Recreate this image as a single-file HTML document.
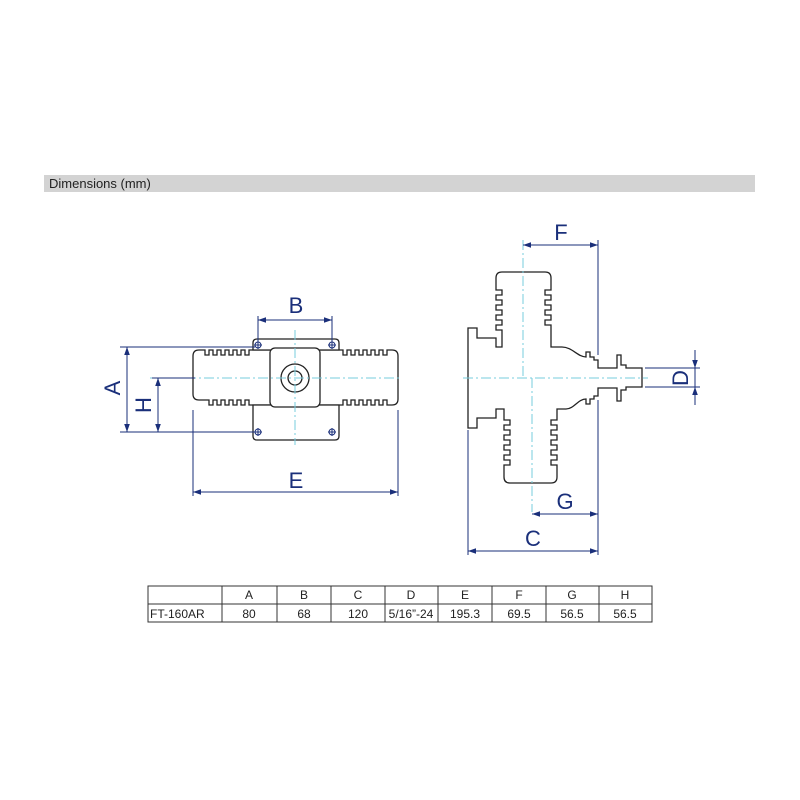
<!DOCTYPE html>
<html><head><meta charset="utf-8"><style>
html,body{margin:0;padding:0;background:#fff;}
svg{display:block;}
text{font-family:"Liberation Sans",sans-serif;}
</style></head><body>
<svg width="800" height="800" viewBox="0 0 800 800" xmlns="http://www.w3.org/2000/svg">
<rect x="44" y="175" width="711" height="17" fill="#d3d3d3"/>
<text x="49" y="188" font-size="13" fill="#222">Dimensions (mm)</text>

<defs>
<marker id="ar" viewBox="0 0 10 10" refX="10" refY="5" markerWidth="8" markerHeight="8" orient="auto-start-reverse" markerUnits="userSpaceOnUse"><path d="M0,1.5 L10,5 L0,8.5 z" fill="#1a2f7a"/></marker>
</defs>

<!-- LEFT VIEW -->
<g stroke="#222" stroke-width="1.3" fill="#fff">
<path d="M199,350 H205 v5 h4 v-5 h4 v5 h4 v-5 h4 v5 h4 v-5 h4 v5 h4 v-5 h4 v5 h4 v-5 h4 v5 h4 v-5 h4 H339 h4 v5 h4 v-5 h4 v5 h4 v-5 h4 v5 h4 v-5 h4 v5 h4 v-5 h4 v5 h4 v-5 h4 v5 h4 v-5 H392 q6,0 6,6 V399 q0,6 -6,6 H387 v-5 h-4 v5 h-4 v-5 h-4 v5 h-4 v-5 h-4 v5 h-4 v-5 h-4 v5 h-4 v-5 h-4 v5 h-4 v-5 h-4 v5 h-4 H253 h-4 v-5 h-4 v5 h-4 v-5 h-4 v5 h-4 v-5 h-4 v5 h-4 v-5 h-4 v5 h-4 v-5 h-4 v5 h-4 v-5 H199 q-6,0 -6,-6 V356 q0,-6 6,-6 Z"/>
<path d="M253,350 V343 q0,-4 4,-4 H335 q4,0 4,4 V350 Z"/>
<path d="M253,405 V436 q0,4 4,4 H335 q4,0 4,-4 V405 Z"/>
<rect x="270" y="348" width="50" height="59" rx="5"/>
<circle cx="295" cy="378" r="14"/>
<circle cx="295" cy="378" r="7"/>
</g>
<g stroke="#1a2f7a" stroke-width="1" fill="none">
<circle cx="258" cy="345" r="3"/><circle cx="332" cy="345" r="3"/>
<circle cx="258" cy="432" r="3"/><circle cx="332" cy="432" r="3"/>
<path d="M254,345h8M258,341v8M328,345h8M332,341v8M254,432h8M258,428v8M328,432h8M332,428v8"/>
</g>
<g stroke="#7cd" stroke-width="1" stroke-dasharray="10,3,2,3" fill="none">
<path d="M150,378 H402"/><path d="M295,330 V445"/>
</g>
<g stroke="#1a2f7a" stroke-width="1" fill="none">
<path d="M120,347 H255 M120,432 H255 M152,378 H195"/>
<path d="M258,316 V343 M332,316 V343"/>
<path d="M193,410 V496 M398,410 V496"/>
<path d="M258,320 H332" marker-start="url(#ar)" marker-end="url(#ar)"/>
<path d="M127,347 V432" marker-start="url(#ar)" marker-end="url(#ar)"/>
<path d="M158,378 V432" marker-start="url(#ar)" marker-end="url(#ar)"/>
<path d="M193,492 H398" marker-start="url(#ar)" marker-end="url(#ar)"/>
</g>
<g fill="#1a2f7a" font-size="22">
<text x="296" y="313" text-anchor="middle">B</text>
<text x="296" y="488" text-anchor="middle">E</text>
<text transform="translate(120,388) rotate(-90)" text-anchor="middle">A</text>
<text transform="translate(151,405) rotate(-90)" text-anchor="middle">H</text>
</g>

<!-- RIGHT VIEW -->
<g stroke="#222" stroke-width="1.3" fill="#fff">
<path d="M468,378 V328 H477 V338 H496 V347 H502 V330 H496 V325 H502 V320 H496 V315 H502 V310 H496 V305 H502 V300 H496 V295 H502 V290 H496 V278 q0,-6 6,-6 H545 q6,0 6,6 V290 H545 V295 H551 V300 H545 V305 H551 V310 H545 V315 H551 V320 H545 V325 H551 V347 H562 C572,347 578,357 586,357 V352 H590 V357 H594 V360 H598 V368 H617 V355 H621 V365 H626 V368 H642 V387 H626 V390 H621 V401 H617 V388 H598 V396 H594 V399 H590 V404 H586 V399 C578,399 574,409 566,409 H557 V420 H551 V425 H557 V430 H551 V435 H557 V440 H551 V445 H557 V450 H551 V455 H557 V460 H551 V465 H557 V477 q0,6 -6,6 H510 q-6,0 -6,-6 V465 H510 V460 H504 V455 H510 V450 H504 V445 H510 V440 H504 V435 H510 V430 H504 V425 H510 V420 H504 V409 H496 V418 H477 V428 H468 Z"/>
</g>
<g stroke="#7cd" stroke-width="1" stroke-dasharray="10,3,2,3" fill="none">
<path d="M463,378 H648"/><path d="M523,240 V378"/><path d="M532,378 V512"/>
</g>
<g stroke="#1a2f7a" stroke-width="1" fill="none">
<path d="M598,240 V355 M598,400 V555 M468,430 V555"/>
<path d="M645,368 H700 M645,387 H700"/>
<path d="M523,245 H598" marker-start="url(#ar)" marker-end="url(#ar)"/>
<path d="M532,514 H598" marker-start="url(#ar)" marker-end="url(#ar)"/>
<path d="M468,551 H598" marker-start="url(#ar)" marker-end="url(#ar)"/>
<path d="M695,350 V368" marker-end="url(#ar)"/>
<path d="M695,405 V387" marker-end="url(#ar)"/>
<path d="M695,368 V387"/>
</g>
<g fill="#1a2f7a" font-size="22">
<text x="561" y="240" text-anchor="middle">F</text>
<text x="565" y="509" text-anchor="middle">G</text>
<text x="533" y="546" text-anchor="middle">C</text>
<text transform="translate(688,378) rotate(-90)" text-anchor="middle">D</text>
</g>

<!-- TABLE -->
<g stroke="#333" stroke-width="1" fill="none">
<rect x="148" y="586" width="504" height="36"/>
<path d="M148,604 H652 M222,586 V622 M277,586 V622 M331,586 V622 M385,586 V622 M438,586 V622 M492,586 V622 M546,586 V622 M599,586 V622"/>
</g>
<g font-size="12" fill="#222" text-anchor="middle">
<text x="249" y="599">A</text><text x="304" y="599">B</text><text x="358" y="599">C</text><text x="411" y="599">D</text><text x="465" y="599">E</text><text x="519" y="599">F</text><text x="572" y="599">G</text><text x="625" y="599">H</text>
<text x="150" y="618" text-anchor="start">FT-160AR</text>
<text x="249" y="618">80</text><text x="304" y="618">68</text><text x="358" y="618">120</text><text x="411" y="618">5/16”-24</text><text x="465" y="618">195.3</text><text x="519" y="618">69.5</text><text x="572" y="618">56.5</text><text x="625" y="618">56.5</text>
</g>
</svg>
</body></html>
